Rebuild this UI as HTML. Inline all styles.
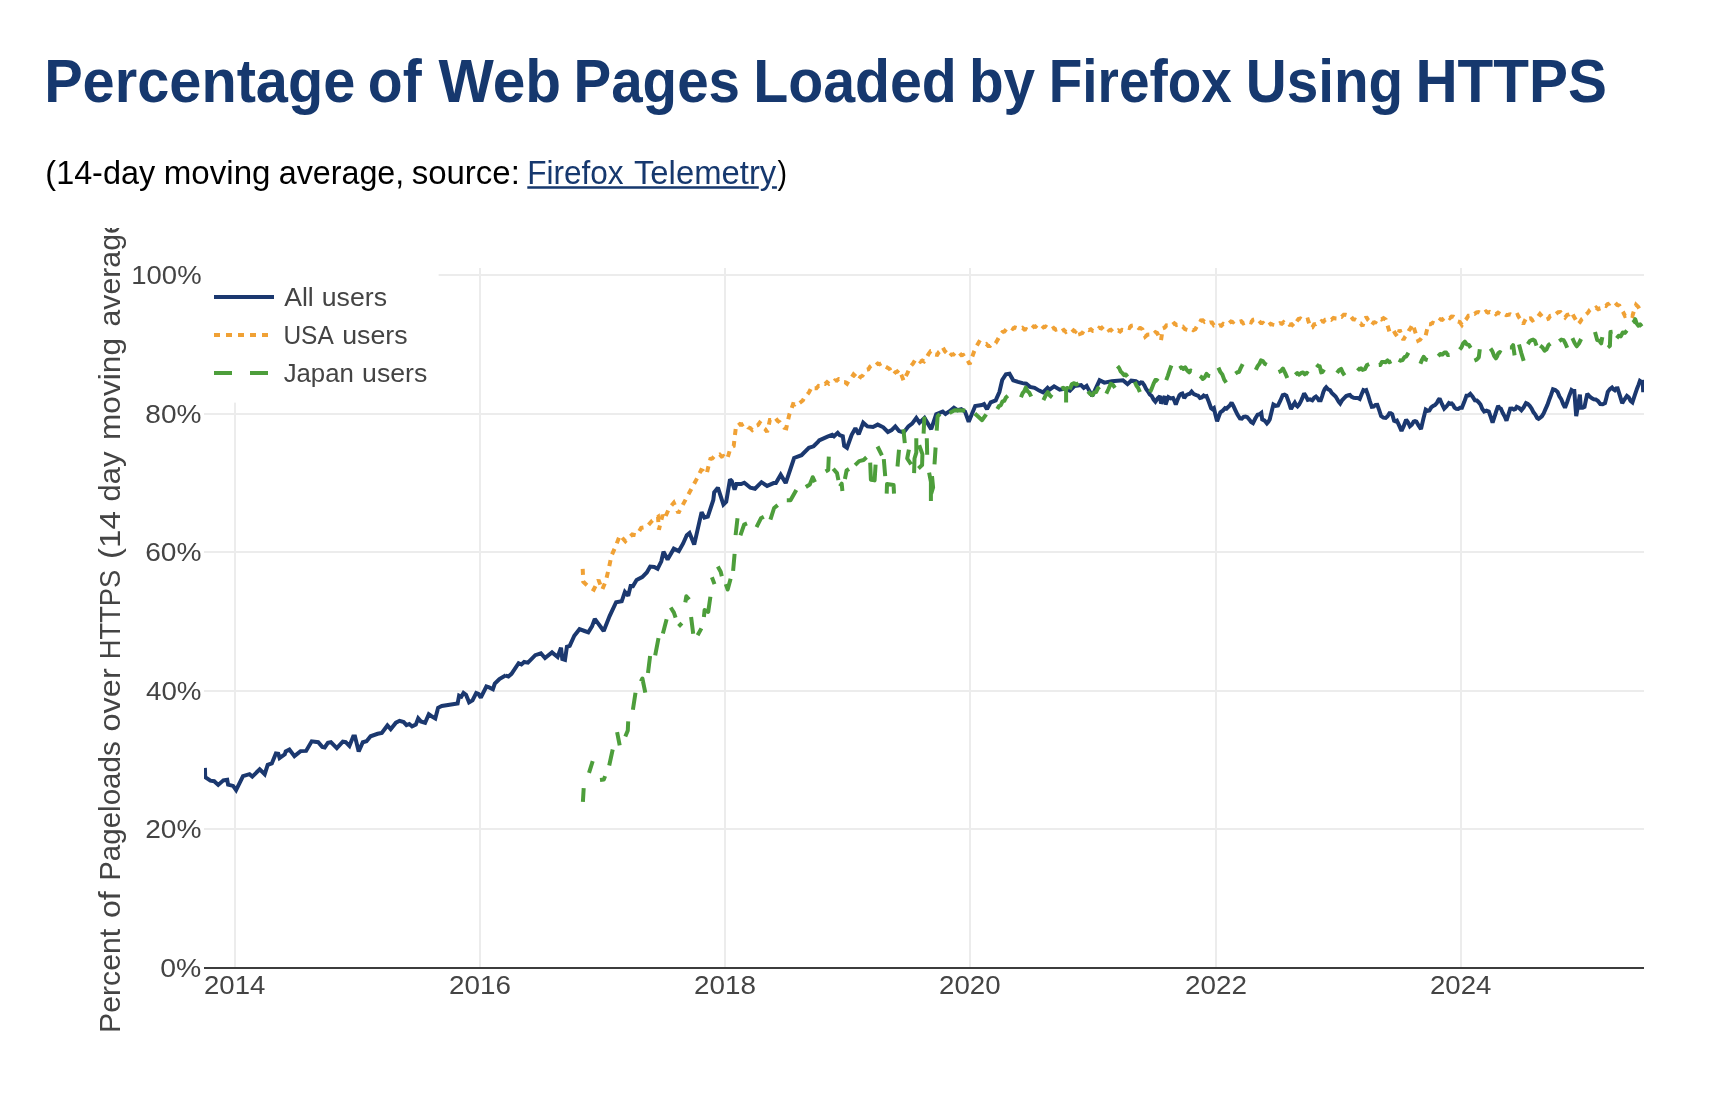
<!DOCTYPE html>
<html lang="en"><head><meta charset="utf-8"><title>Percentage of Web Pages Loaded by Firefox Using HTTPS</title>
<style>
html,body{margin:0;padding:0;background:#fff;}
body{width:1722px;height:1094px;position:relative;overflow:hidden;font-family:"Liberation Sans",sans-serif;}
</style></head><body>
<svg width="1722" height="228" viewBox="0 0 1722 228" style="position:absolute;left:0;top:0;will-change:transform">
<g font-family="'Liberation Sans', sans-serif" font-weight="bold" font-size="61.3" fill="#16386e">
<text x="44.13" y="101.7" textLength="311.21" lengthAdjust="spacingAndGlyphs">Percentage</text>
<text x="367.83" y="101.7" textLength="53.84" lengthAdjust="spacingAndGlyphs">of</text>
<text x="438.49" y="101.7" textLength="122.65" lengthAdjust="spacingAndGlyphs">Web</text>
<text x="573.51" y="101.7" textLength="166.49" lengthAdjust="spacingAndGlyphs">Pages</text>
<text x="753.16" y="101.7" textLength="203.67" lengthAdjust="spacingAndGlyphs">Loaded</text>
<text x="968.91" y="101.7" textLength="66.21" lengthAdjust="spacingAndGlyphs">by</text>
<text x="1048.82" y="101.7" textLength="182.95" lengthAdjust="spacingAndGlyphs">Firefox</text>
<text x="1245.79" y="101.7" textLength="157.47" lengthAdjust="spacingAndGlyphs">Using</text>
<text x="1415.38" y="101.7" textLength="191.6" lengthAdjust="spacingAndGlyphs">HTTPS</text>
</g>
<g font-family="'Liberation Sans', sans-serif" font-size="32.7" fill="#000">
<text x="45.37" y="183.7" textLength="109.71" lengthAdjust="spacingAndGlyphs">(14-day</text>
<text x="163.78" y="183.7" textLength="106.72" lengthAdjust="spacingAndGlyphs">moving</text>
<text x="278.75" y="183.7" textLength="125.45" lengthAdjust="spacingAndGlyphs">average,</text>
<text x="411.66" y="183.7" textLength="108.23" lengthAdjust="spacingAndGlyphs">source:</text>
<text x="527.2" y="183.7" textLength="96.39" lengthAdjust="spacingAndGlyphs" fill="#16386e">Firefox</text><text x="633.96" y="183.7" textLength="142.28" lengthAdjust="spacingAndGlyphs" fill="#16386e">Telemetry</text>
<text x="777.57" y="183.7" textLength="9.52" lengthAdjust="spacingAndGlyphs">)</text>
</g>
<path d="M527.3,187.4H758.8M772,187.4H776.9" stroke="#16386e" stroke-width="2.5" fill="none"/>
</svg>
<svg width="1722" height="866" viewBox="0 228 1722 866" style="position:absolute;left:0;top:228px;overflow:hidden;will-change:transform">
<g stroke="#ececec" stroke-width="2" fill="none" shape-rendering="crispEdges">
<path d="M235,268V968"/>
<path d="M480,268V968"/>
<path d="M725,268V968"/>
<path d="M970,268V968"/>
<path d="M1216,268V968"/>
<path d="M1461,268V968"/>
<path d="M204,275H1644"/>
<path d="M204,414H1644"/>
<path d="M204,552H1644"/>
<path d="M204,691H1644"/>
<path d="M204,829H1644"/>
</g>
<path d="M204,968H1644" stroke="#3c3c3c" stroke-width="2" fill="none" shape-rendering="crispEdges"/>
<clipPath id="c"><rect x="204" y="268" width="1440" height="700"/></clipPath>
<g clip-path="url(#c)" fill="none" stroke-width="4" stroke-linejoin="miter" stroke-miterlimit="2">
<path d="M204.9,767.9 L205.2,777.1 L210.4,780.7 L214.2,781.2 L218.2,784.9 L223.4,780.3 L227.2,779.7 L228.1,784.6 L233.1,785.9 L236.1,790.2 L243,776.2 L249.5,774.2 L252.3,776.6 L259.7,769.3 L264.7,774.2 L267.7,764.9 L271.8,763.4 L275.9,753.4 L278.3,753.7 L279.6,758 L284.8,754.3 L285.7,751.5 L289.4,749.6 L294.4,756.1 L300.6,751.1 L306.1,750.9 L311.7,741.3 L318.2,742.2 L322.3,746.9 L324.7,747.4 L327.9,742.8 L330.9,742.2 L336.8,748.2 L342.8,741.6 L345.7,742.2 L349.4,745.9 L353.2,736.6 L355,736.6 L358.7,751.5 L362.8,742.2 L366.5,741.3 L370.6,736.3 L377.7,733.8 L381.8,732.9 L387.4,725.5 L390.7,729.2 L395.9,722.7 L399.6,720.8 L403.7,722.1 L406.5,725.1 L409.3,724 L412.1,726.4 L415.8,724.6 L418.2,718.4 L420.8,721.4 L425.1,722.7 L428.8,714.3 L431.6,716.2 L435.3,718.4 L438.1,707.8 L441.8,706 L457.6,703.6 L459.1,695.7 L461.3,696.7 L463.5,693 L466,694.8 L469.1,702.3 L472.5,700.4 L476.2,693 L478.4,693.9 L480.8,697.6 L486.4,686.5 L489.2,687.4 L492.9,689.2 L494.8,683.7 L499.4,679 L505.9,675.3 L505.6,675.6 L508.4,676.5 L511.5,673.8 L518.6,663.2 L521.4,664.5 L524.2,662 L527.9,662.6 L535.3,655.2 L540.9,653.3 L545,658 L552,652.4 L557.6,657 L561,647.7 L562.3,658.9 L565,659.8 L566.9,646.8 L569.7,645.9 L574.3,635.7 L579.5,629.2 L584.6,631 L588.3,632.3 L592,626.4 L594.8,618.9 L603.7,631 L609.6,616.1 L616.1,602.2 L621.7,601.3 L624.9,592 L628.2,595.7 L631,584.6 L632.3,587.3 L636.6,579.9 L642.2,577.1 L646.8,572.5 L650.2,566.5 L654.2,566.9 L657.6,568.8 L661.3,561.3 L663.5,551.7 L667.6,559.5 L673.8,548.7 L678.8,551.1 L683,543.7 L686.8,535.3 L689.5,533.1 L694.2,544.6 L701.6,512.1 L704.4,517.7 L707.8,516.7 L713.3,500 L714.2,492.4 L717.9,487.7 L723.4,504.5 L726.2,501.7 L730,479.4 L731.8,481.2 L734.6,489.6 L736.5,484 L741.1,484 L744.3,482.7 L750.4,487.7 L755,488.7 L761.5,482.2 L767.1,485.9 L773.6,483.1 L775.9,483.1 L780.7,474.7 L785.7,483.1 L794.1,458 L801.5,455.2 L808.9,447.8 L813.6,446.3 L818.2,441.8 L819.2,440.3 L827.5,436.6 L832.2,434.8 L834,436.3 L837.7,432.9 L839.6,435.1 L842.8,436.3 L844.2,445.9 L847,447.8 L851.7,434.8 L855.4,428.3 L858.7,434.4 L863.2,422.7 L867.5,426.4 L873,427 L877.7,424.6 L883.3,427.3 L887.9,432 L891.6,430.1 L895.3,426.4 L899.1,431.1 L903.7,432.5 L908.4,426.4 L912.1,423.6 L916.3,418 L919.5,422.7 L924.5,418 L927.9,423.6 L931.2,429.2 L936.2,414.3 L942.7,411.5 L945.5,414 L949.2,411.5 L953.9,407.8 L957.6,410.2 L961.3,409.1 L965,411.5 L968.7,421.8 L975.2,406 L981.8,405 L984,404.1 L987,409.1 L990.7,402.3 L995.7,400.4 L999.4,392 L1002.2,380 L1005.9,374.4 L1009.5,373.8 L1013.2,380.3 L1017.9,381.8 L1022.5,383.1 L1026.2,383.7 L1030,386.9 L1034.6,387.8 L1039.2,390.6 L1043,392.4 L1047.6,387.8 L1049.5,389.6 L1054.1,386.3 L1059.7,389.6 L1064.3,388.7 L1069.9,390.6 L1074.6,385.9 L1081.1,385 L1083.8,387.8 L1086.6,385.9 L1092.2,396.1 L1099.6,380.3 L1104.3,382.6 L1111.7,381.3 L1122.9,380.3 L1127.5,384.1 L1131.2,380.7 L1135.9,381.3 L1139.6,383.7 L1141,382.4 L1142.4,382.6 L1144.3,385.2 L1146.1,389 L1148,391.5 L1149.8,394.4 L1151.7,396.1 L1153.6,399.5 L1155.4,401.7 L1157.7,398.3 L1160,396.1 L1161,403.6 L1162.8,400.2 L1164.7,396.1 L1165.6,404.5 L1167,400.4 L1168.4,397.1 L1170.7,398.4 L1173,398 L1174.4,400.9 L1175.8,404.5 L1177.7,399.4 L1179.5,395.2 L1180.9,393.9 L1182.3,393.4 L1184.2,398 L1186.1,395.3 L1187.9,394.3 L1189.8,393.7 L1191.6,391.5 L1193.9,394.2 L1196.3,395.2 L1198.2,395.7 L1200,398 L1201.8,397.5 L1203.7,395.6 L1205.1,396.4 L1206.5,396.1 L1208.8,401.8 L1211.1,408.2 L1212.5,409.2 L1213.9,408.2 L1215.5,415 L1217.1,421.2 L1218.8,416.5 L1220.4,412.3 L1222.8,410.7 L1225.1,408.2 L1226.5,408.7 L1227.9,407.3 L1229.8,405.5 L1231.6,402.6 L1233.4,406 L1235.3,410.1 L1237.6,414.8 L1239.9,418.4 L1241.8,418.6 L1243.6,416.8 L1245.5,416.6 L1247.3,417.2 L1249.2,419.4 L1251.1,421.9 L1253,423.1 L1255.3,418.5 L1257.6,414.7 L1259.4,414.3 L1261.3,412.9 L1262.2,419.4 L1264.6,420.6 L1266.9,423.5 L1268.3,421.9 L1269.7,419.4 L1271.6,411.7 L1273.4,404.5 L1275.7,405.8 L1278,405.4 L1280.3,400.7 L1282.7,395.2 L1284.6,394.7 L1286.4,395.6 L1288.7,402 L1291,409.2 L1292.9,405.5 L1294.8,402.6 L1296.2,405.2 L1297.5,406.4 L1299.1,404.5 L1300.7,401.7 L1302.4,397.9 L1304.1,393.4 L1305.9,396.2 L1307.8,399.9 L1310,399.4 L1312.3,400.3 L1314.2,397.8 L1316,396.6 L1317.4,397.9 L1318.8,400.3 L1320.7,400.3 L1322.1,396.4 L1323.4,391.9 L1324.8,388.9 L1326.2,387.3 L1328.1,389.4 L1330,390.1 L1331.8,392.9 L1333.7,394.7 L1335.6,396.5 L1337.4,399.4 L1338.8,401.9 L1340.2,403.5 L1342.1,400.3 L1343.9,398.4 L1346.2,396.1 L1348.5,395.3 L1349.9,395 L1351.3,396.6 L1353.7,397.7 L1356,397.9 L1357.8,398 L1359.7,399 L1361.6,394.2 L1363.4,390.1 L1364.8,390.6 L1366.2,390.1 L1368.1,395.3 L1369.9,401.4 L1371.8,406.8 L1373.6,406.6 L1375.5,405 L1377.3,404.9 L1379.2,410.2 L1381.1,416.1 L1383.4,417.7 L1385.7,418 L1387.6,416.2 L1389.4,413.3 L1390.8,413.3 L1392.2,414.2 L1394.1,420.7 L1395.5,421.3 L1396.9,420.7 L1399.2,425.6 L1401.5,431 L1403.8,425.9 L1406.1,419.8 L1408,422.4 L1409.9,426.3 L1411.8,424.7 L1413.6,421.7 L1415,421.2 L1416.4,421.7 L1418.7,425.7 L1421,429.1 L1423.3,419.1 L1425.7,409.6 L1427.6,410.8 L1429.4,410.5 L1431.2,407.4 L1433.1,405.9 L1434.9,405 L1436.8,403.1 L1438.2,400.3 L1439.6,398.4 L1441.9,404 L1444.2,408.7 L1446.6,406.3 L1448.9,403.1 L1450.3,403.8 L1451.7,403.5 L1453.1,404.9 L1454.5,407.7 L1456.3,408.8 L1458.2,409 L1460.1,407.8 L1461.9,407.7 L1464.2,402.1 L1466.5,395.7 L1468.4,395.5 L1470.3,393.8 L1472.6,396.7 L1474.9,400.3 L1476.8,400.5 L1478.6,402.2 L1480.5,404.6 L1482.3,408.9 L1484.2,411.5 L1486.5,410.6 L1488.8,411.5 L1490.7,416.8 L1492.6,422.6 L1494.4,417.2 L1496.3,411.2 L1498.1,405.9 L1499.5,408 L1500.9,408.7 L1502.8,413 L1504.6,416.3 L1506.5,420.7 L1508.3,415 L1510.2,408.7 L1512.1,408.6 L1513.9,409.6 L1515.3,409.1 L1516.7,406.8 L1519.1,408 L1521.4,410.2 L1523.7,407.3 L1526,403.1 L1527.8,403.9 L1529.7,405.9 L1531.6,408.5 L1533.5,412.3 L1535.3,414.5 L1537.2,418 L1538.6,418.9 L1539.9,418 L1541.8,416.4 L1543.7,413.3 L1545.6,408.9 L1547.4,404.9 L1549.3,399.5 L1551.1,394.7 L1553,389.2 L1555.3,390 L1557.6,391.9 L1559.4,396.3 L1561.3,399.3 L1563.2,404.1 L1565,407.7 L1567.2,402 L1569.3,395.7 L1571.5,390.1 L1572.9,391 L1574.3,391 L1576.2,416.1 L1578.1,405.3 L1579.9,394.7 L1580.8,407.7 L1582.7,407.7 L1584.5,406.8 L1585.9,400.1 L1587.3,393.8 L1589.7,396.5 L1592,398.4 L1593.8,399.3 L1595.7,399.4 L1598,401 L1600.3,404 L1602.7,404.2 L1605,403.1 L1606.4,397.7 L1607.8,391.9 L1609.9,389.1 L1612,387.5 L1613.4,389.3 L1614.8,390.3 L1616.2,388.5 L1617.6,388.4 L1619.9,395.6 L1622.2,403.3 L1624.6,399.3 L1626.9,395.9 L1628.7,397.3 L1630.6,401 L1632.4,402.4 L1634.8,395.2 L1637.1,388.4 L1638.5,384.9 L1639.9,381 L1641.3,382 L1642.7,381.9 L1643.2,392.2" stroke="#1b386f"/>
<path d="M582.7,568.8 L583.3,581.8 L588.3,586.4 L593.8,589.6 L598.5,579.9 L602.2,589.6 L605.9,580.8 L608.7,568.8 L611.5,555.7 L615.6,546.5 L619.9,535.3 L625.4,541.3 L632.3,534.4 L636.6,535.3 L641.2,527.9 L646.8,526.9 L652.4,520.4 L658,516.7 L658.9,529.7 L662.6,514.9 L664.5,518.6 L669.1,508.4 L673.8,502.8 L678.4,513 L696.5,479.4 L701.1,470.1 L703,470.9 L704.8,473.2 L706.7,473.8 L708.5,466.1 L710.4,458.9 L712.3,458.5 L714.1,456.5 L716,456.5 L717.9,455.2 L719.7,454.5 L721.6,456.6 L723.4,456.1 L725.3,458.2 L727.2,458.9 L728.6,454.5 L730,449.6 L731.9,446.9 L733.7,445.9 L735,434.8 L736.1,425.5 L738,425.7 L740,424 L742,424.7 L743.9,423.6 L746,424.5 L748.1,427.4 L750.2,428.1 L752.3,430.1 L754.1,428.7 L756,425.8 L757.9,425.1 L759.7,422.7 L761.6,424.2 L763.4,427.9 L765.2,429.1 L767.1,432 L768.5,426.2 L769.9,419.9 L771.8,419.9 L773.6,417.7 L775.5,418 L777.7,420.9 L779.8,422.3 L782,425.5 L784.1,427.7 L786.3,428.3 L787.8,421.1 L789.4,414.3 L791.2,409.5 L793.1,404.1 L795,404.4 L796.9,402.5 L798.7,403.7 L800.6,402.3 L802.8,400.4 L804.9,396.5 L807.1,394.8 L808.9,392.5 L810.8,388.9 L812.6,386.5 L814.5,388.3 L816.4,388.3 L818.6,385.8 L820.7,386 L822.9,383.7 L825,384 L827,382.2 L829.1,383.8 L831.2,382.7 L833.1,382.4 L835,380.3 L836.8,380.6 L838.7,379 L840.8,379.3 L842.9,382 L844.9,382.1 L847,383.7 L849.2,379.9 L851.3,377.8 L853.5,374.4 L855.9,376.7 L858.2,380 L860.4,376.8 L862.5,375.8 L864.7,372.5 L866.6,369.8 L868.4,369.3 L870.2,366.5 L872.1,365.1 L874,364.1 L875.8,365.2 L877.7,363.5 L879.5,364.2 L881.4,363.2 L883.6,364.2 L885.7,366.7 L887.9,367.9 L889.8,369.2 L891.6,372.6 L893.5,374.4 L895.4,372.2 L897.2,371.7 L899.1,369.7 L901.4,374.9 L903.7,380.9 L905.6,376.5 L907.4,373.1 L909.3,368.8 L911.2,365.6 L913,363.5 L914.9,360.4 L916.7,361.6 L918.6,360 L920.4,361.8 L922.3,360.6 L924.1,361.4 L926.3,358.3 L928.5,354.1 L930.7,351.1 L932.9,351.4 L935,354.5 L937.2,354.9 L939,351.9 L940.9,350.3 L942.7,347.4 L944.9,351.2 L947,353.3 L949.2,356.7 L951.4,354.5 L953.5,354.5 L955.7,352.1 L957.6,353.5 L959.5,353 L961.3,355.2 L963.2,354.9 L965.4,358.4 L967.5,360.4 L969.7,364.2 L972,357.3 L974.3,351.1 L976.6,346 L979,341.9 L980.8,343 L982.7,342.8 L984.5,344.4 L986.3,343.9 L988.2,346 L990,346 L991.9,344.1 L993.7,344.7 L995.6,343.2 L997.9,339.3 L1000.2,334.8 L1002.4,332.1 L1004.5,331.5 L1006.7,328.7 L1008.7,329 L1010.7,327.6 L1012.8,328.8 L1014.8,327.4 L1016.8,328 L1018.8,327.4 L1020.7,328.5 L1022.5,327.8 L1024.4,329.5 L1026.2,329.2 L1028.1,330.2 L1030,328.7 L1031.8,328.7 L1033.7,326.5 L1035.5,326.8 L1037.4,325 L1039.4,326.3 L1041.5,325.4 L1043.5,327.4 L1045.6,326.5 L1047.6,327.9 L1049.6,327.3 L1051.7,329.1 L1053.7,328 L1055.8,329.7 L1057.8,329.2 L1059.8,328.7 L1061.8,331.1 L1063.8,329.9 L1065.9,332 L1067.9,330.7 L1069.9,332 L1071.8,332.2 L1073.6,330.4 L1075.5,331.6 L1077.3,329.5 L1079.2,329.8 L1080.1,333.9 L1082.3,333.1 L1084.4,329.8 L1086.6,329.2 L1088.7,330.1 L1090.8,329.3 L1092.9,331.1 L1095,331.1 L1097.1,330.5 L1099.2,327.9 L1101.3,328.5 L1103.4,326.5 L1105.2,328 L1107.1,327.8 L1108.9,330.3 L1110.8,329.7 L1112.6,331.7 L1114.5,331 L1116.3,331.6 L1118.2,330.4 L1120.1,331.5 L1121.9,329.9 L1123.8,330.2 L1125.7,329.8 L1127.5,327.6 L1129.4,328 L1131.2,325.8 L1133.1,325.5 L1135,326.9 L1136.8,326.5 L1138.7,328.2 L1140.5,328 L1142.4,329.2 L1143.8,333.3 L1145.2,336.7 L1147.4,334.7 L1149.5,334.6 L1151.7,333 L1153.5,333.9 L1155.4,332.2 L1157.2,333 L1159.1,337 L1161,340.4 L1162.8,328.3 L1164.7,327.6 L1166.5,325.4 L1168.4,325.5 L1170.3,323.7 L1172.4,324.8 L1174.4,323.3 L1176.5,325 L1178.6,324.6 L1180.7,326.8 L1182.8,326.6 L1184.9,329 L1187,329.8 L1189.1,330.4 L1191.2,328.8 L1193.2,330.2 L1195.3,329.2 L1197.2,325.8 L1199,324 L1200.9,320.5 L1202.8,320.4 L1204.6,321.8 L1206.5,320.9 L1208.3,322.9 L1210.2,322.4 L1212,322.5 L1213.9,325.4 L1215.8,324.7 L1217.6,326.5 L1219.5,325.3 L1221.3,325.7 L1223.2,323.9 L1225,324.6 L1226.9,323.1 L1229,323.3 L1231,321.5 L1233.1,322.2 L1235.1,320.6 L1237.2,320.9 L1239.2,321.9 L1241.3,321.3 L1243.3,323.4 L1245.4,322.6 L1247.4,323.7 L1249.2,321.9 L1251.1,322.4 L1253,319.8 L1254.8,319.4 L1256.8,321.3 L1258.9,320.7 L1260.9,323 L1263,322.9 L1265,324.6 L1266.9,323.7 L1268.8,325.2 L1270.6,323.8 L1272.5,324.6 L1274.3,324.9 L1276.2,323.2 L1278.1,324.1 L1279.9,323.1 L1281.8,323.8 L1283.6,322.2 L1285.5,323.8 L1287.3,322.7 L1289.5,324.8 L1291.6,324.3 L1293.8,326.5 L1296.2,322.2 L1298.5,319 L1300.4,318.4 L1302.2,319.7 L1304.1,318.4 L1305.9,319.9 L1307.8,319.4 L1309.1,323.4 L1310.4,327.8 L1312.3,327.4 L1314.1,324.4 L1316,324.1 L1317.9,322.7 L1319.7,323.1 L1321.6,321.1 L1323.5,321.7 L1325.3,319.7 L1327.2,319.5 L1329.3,318.6 L1331.3,319.7 L1333.4,317.9 L1335.5,318.5 L1337.5,318.6 L1339.6,316.3 L1341.6,316.8 L1343.7,314.7 L1345.7,314.8 L1347.6,315.3 L1349.4,317.5 L1351.3,316.9 L1353.1,319.3 L1355,319.5 L1356.9,320.5 L1358.8,323.3 L1360.6,323.4 L1362.5,326 L1364.3,321.1 L1366.2,316.7 L1368.1,320 L1369.9,321.7 L1371.8,325 L1373.7,322.5 L1375.5,322.4 L1377.3,319.3 L1379.2,318.5 L1381.4,319.5 L1383.5,318.2 L1385.7,319.5 L1387.6,325.7 L1389.4,331.5 L1391.2,329.8 L1393.1,329.7 L1395.4,333.8 L1397.8,337.1 L1399.6,329.7 L1401.5,335.1 L1403.4,339.9 L1405.2,336.5 L1407.1,334.2 L1408.9,330.6 L1410.8,327.9 L1412.6,324.1 L1414,328.1 L1415.4,332.5 L1416.8,337.1 L1418.2,340.8 L1420.1,339.8 L1422,337.1 L1423.8,337.4 L1425.7,335.3 L1427.1,329.4 L1428.4,324.1 L1430.5,324.3 L1432.6,322.7 L1434.7,323.6 L1436.8,322.3 L1438.7,321.7 L1440.5,319.3 L1442.3,319.7 L1444.2,318 L1446.1,318.5 L1447.9,316.8 L1449.8,318.1 L1451.6,316.5 L1453.5,316.7 L1455.6,318.2 L1457.7,321.5 L1459.8,322.1 L1461.9,325 L1464.1,321.5 L1466.2,319.2 L1468.4,315.7 L1470.4,315.7 L1472.5,313.5 L1474.5,313.9 L1476.6,312.3 L1478.6,312 L1480.5,312.9 L1482.3,311.5 L1484.2,312.6 L1486.1,311.4 L1487.9,312.6 L1489.8,312 L1491.8,313 L1493.9,312.2 L1495.9,314.1 L1498,312.6 L1500,313.9 L1502.1,315.1 L1504.2,313.8 L1506.3,315.1 L1508.4,314.8 L1510.2,314.3 L1512.1,315.3 L1513.9,314.3 L1515.8,315.6 L1517.6,314.8 L1519.5,318.2 L1521.3,320.7 L1523.2,324.1 L1525.1,320.1 L1526.9,316.7 L1528.8,318.6 L1530.6,318.3 L1532.5,320.4 L1534.3,319.3 L1536.2,316.3 L1538.1,316.3 L1539.9,313.9 L1542.1,316.6 L1544.2,316.8 L1546.4,319.5 L1548.3,318.8 L1550.2,315.9 L1552,315.7 L1553.9,313.9 L1556.1,313.9 L1558.2,312.1 L1560.4,312 L1562.7,315.3 L1565,317.6 L1567.2,314.8 L1569.3,314.4 L1571.5,312 L1573.7,316.3 L1575.8,319.8 L1578,324.1 L1579.9,322.2 L1581.8,319.1 L1583.6,317.9 L1585.5,314.8 L1587.7,313 L1589.8,309.9 L1592,308.3 L1594.1,309 L1596.2,307.6 L1598.2,309.2 L1600.3,308.3 L1602.2,308 L1604,305.5 L1605.9,306 L1607.7,304.1 L1609.6,303.7 L1611.2,302.3 L1612.9,302 L1615.1,302.6 L1617.2,305 L1619.4,305.7 L1621.3,309.5 L1623.1,312.1 L1625,316 L1626.8,315.4 L1628.7,316.6 L1630.6,315.1 L1632.4,316 L1634.2,310 L1636.1,304.8 L1638.3,306.9 L1640.5,310.9 L1642.7,313.2" stroke="#f0a135" stroke-dasharray="6 6"/>
<path d="M582.9,801.8 L583.7,788.2 M589,772.9 L592.7,761.2 M600,779.9 L603.9,779.4 L605.1,776.1 M609.2,765.5 L612.7,749.5 M617.1,732.2 L619.7,745.4 M625.3,736.6 L627.8,730.4 L628.2,721.4 M632.9,709.7 L635.5,692.7 M640.9,681.4 L642.4,678.5 L645.3,692.7 M648,673.1 L650.1,655.9 M655.2,655.3 L658.5,638.2 M662.9,633.4 L666.6,619.2 M670.7,607.5 L673.9,612.6 L675.6,617.7 M678.6,626.5 L681.9,623.1 M685.3,602.4 L686.3,596.2 L689.2,599.5 M691.1,617 L693.2,633.8 M697.6,635.3 L701.4,628.4 M703.9,617 L704.6,610 L708.2,611.9 L710.4,596.8 M711.9,577.2 L714.5,584.1 M717.8,566.5 L720.7,571.7 L721.8,576.3 M725.8,584.1 L727.7,589.5 L730.6,578.7 M733.1,570.9 L734.6,553.8 M735.6,535.1 L737.5,518.3 M740.4,535.4 L744.1,524.6 L747,523.4 M756.5,527.1 L760.9,518.3 L763.8,516.8 M770.4,519.7 L774.1,508 L777.7,505.1 M786.8,500.2 L790.5,500.2 L796.3,489.9 M805.8,487 L809.8,484.5 L812.7,477.2 L815,482.2 M828.8,456.7 L828.2,469.9 L825.6,471.4 M833.2,468.7 L837,473.1 L838.4,480.1 M839.9,486.3 L841.7,483.7 L842.4,491 M844.9,479 L846.6,470.5 L849,469 M855.1,465.1 L859.2,461.1 L863.6,460 L866.5,457.3 M870.2,462.6 L870.9,479.7 L874.6,480.4 L875.6,464.6 M877.5,446.5 L880,451.5 L881.9,455.3 M883.8,459.2 L885.2,476.1 M886.7,493.6 L887,484.1 L893.6,485.1 L894,493.6 M897.5,466.5 L899,449.7 M903.4,429.3 L904.8,443.1 M908.9,449.7 L907.2,458.5 L911.1,464.4 M914.1,473.1 L914.5,458.5 L916.3,452.7 L916.3,438.3 M919.2,445.3 L922.4,454.1 L922.1,465.1 L918.4,468.4 M925.8,419 L924.3,418.3 L923.6,433.6 M926.8,438.3 L927.2,454.8 M929.1,472.7 L930.9,481.9 L930.9,500.9 M932,476.1 L933.1,487.5 L931.2,493.6 M934.5,464.4 L935.6,447.5 M936.7,430.7 L937.6,416.4 L939.9,414 M949.6,412.9 L954.6,410.2 L965.2,410.5 M974.8,413.5 L982.1,420.2 L986.2,414.3 M997.3,409 L999,406.1 L1000.8,405.2 L1002.5,401.4 L1004.3,400.9 L1006,397.4 L1007.8,395.8 M1021,397.3 L1022.6,393.3 L1024.2,391.2 L1025.8,387.5 L1027.6,391.3 L1029.4,392.8 L1031.2,396.5 M1043.4,400.2 L1045.6,395.6 L1047.8,392.1 L1050,395.6 L1052.2,397.3 M1061.4,388.6 L1063.2,387.8 L1065.1,389.6 L1066.9,387.9 L1068.7,388.6 M1066.1,388.6 L1066.1,402.4 M1069.7,389.5 L1071.9,384.1 L1074.1,383.2 L1076.3,384.5 L1078.5,383.1 M1088,391.4 L1090.2,394 L1092.4,395.1 L1094.2,392.4 L1096.1,392.1 L1097.9,388.3 L1099.7,387 M1106.3,393.6 L1108.5,389 L1110.7,383.7 L1112.8,384.7 L1115,387.8 M1117.5,366.1 L1119.1,368 L1120.8,371.6 L1122.4,373.1 L1124.1,375.1 L1125.8,374.5 L1127.5,376.8 M1134.8,381.9 L1136.5,385.8 L1138.2,388 L1139.9,392.1 M1150.1,392.1 L1151.8,388.4 L1153.6,383.6 L1155.3,380.1 L1156.8,380 L1158.2,381.2 M1166.2,380.1 L1167.9,375.6 L1169.7,370 L1171.4,365.5 M1179.4,368.4 L1181.3,367.3 L1183.3,368.9 L1185.2,367.3 L1187.2,370.5 L1189.2,372.4 L1190.5,370.5 L1191.8,370.9 M1199.9,376.1 L1201.3,377 L1202.8,379 L1204.7,377.4 L1206.5,373.9 L1208.3,375.7 L1210.1,376.1 M1218.4,367.6 L1220.4,372.1 L1222.3,374.4 L1224.2,379.6 L1226.2,382.6 M1235.4,373.6 L1237.2,372.3 L1239,372.1 L1240.8,367.8 L1242.7,364.1 M1255.8,369.9 L1257.5,366.3 L1259.3,364.1 L1261,360.4 L1262.9,361.1 L1264.9,363.9 L1266.8,364.8 M1278.5,372.1 L1280.7,371.2 L1282.9,368.5 L1285.1,372.9 L1287.3,378 M1295.3,374.8 L1297.3,373 L1299.2,374.6 L1301.2,372.9 L1303,372.4 L1304.8,374.3 L1306.7,372.8 L1308.5,373.9 M1316.5,364.5 L1318.1,366 L1319.7,366.3 L1321.2,372.4 L1322.7,371.8 L1324.1,369.5 M1337,372.9 L1339,370.2 L1341.1,368.9 L1342.8,372.6 L1344.6,375.4 M1357.5,367.8 L1359.2,369.5 L1360.9,368.3 L1362.6,369.9 L1364.8,369.2 L1367,365 L1369.2,364.1 M1378.7,365.1 L1380.3,364.9 L1381.9,362.1 L1383.5,361.9 L1385.5,362.3 L1387.5,360.4 L1389.4,362.2 L1391.4,361.3 M1398.7,359.7 L1400.6,360.7 L1402.5,360.1 L1404.5,357.1 L1406.4,356.3 L1408.4,352.8 M1420.4,363.7 L1422,359.9 L1423.6,356.8 L1425.7,359.5 L1427.7,360.1 M1438.2,356.1 L1440.3,354 L1442.4,354.6 L1444.5,352.4 L1446.2,352.5 L1447.9,355.1 L1449.6,354.9 M1459.7,349.5 L1461.4,347.5 L1463.2,343.4 L1464.9,341.6 L1466.8,344.4 L1468.8,344.9 L1470.7,347.8 M1474.4,360.6 L1476.6,359.7 L1478.8,357.3 L1479.8,349.2 M1490.5,348.5 L1492.3,351.1 L1494.1,355.8 L1495.9,358.3 L1497.1,356.5 L1498.2,353.3 L1499.8,352 L1501.4,352.9 M1509.9,347.5 L1511.5,347.5 L1513.1,345.1 L1514.6,355.4 M1519,344.5 L1521.3,353.1 L1523.7,360.9 M1527.8,344.1 L1529.6,341.2 L1531.4,340.1 L1533.1,339.6 L1534.8,340.7 L1536.5,345.6 M1540.2,345.6 L1542.4,347.3 L1544.6,350.7 L1546.5,349.3 L1548.5,345.1 L1550.4,343.7 M1559.2,341.2 L1561.4,339.6 L1563.6,340.1 L1565.4,343.5 L1567.2,347.8 M1572.4,338.2 L1574.6,343 L1576.7,346.3 L1578.9,343.5 L1581.1,339 M1595,332 L1597.2,340.1 L1599.2,340.6 L1601.2,343.4 L1602.3,337.2 M1607.9,347.5 L1609.9,346 L1610.4,332 L1612.6,331.7 M1616.7,338.2 L1618.7,335.7 L1620.8,336.4 L1622.8,332.5 L1624.9,332.9 L1626.9,330.5 M1632.8,322.6 L1634,321.6 L1635.2,319.2 L1636.7,323.6 L1638.4,325.7 L1640.1,324.3 L1641.8,326.5" stroke="#4d9e3b" stroke-linejoin="round"/>
</g>
<rect x="203" y="267" width="235.6" height="135.6" fill="#fff"/>
<g fill="none" stroke-width="4">
<path d="M214,297H274" stroke="#1b386f"/>
<path d="M214,335H274" stroke="#f0a135" stroke-dasharray="6 6"/>
<path d="M214,373H274" stroke="#4d9e3b" stroke-dasharray="18 18"/>
</g>
<g font-family="'Liberation Sans', sans-serif" font-size="25.7" fill="#444444">
<text x="284.17" y="306" textLength="29.57" lengthAdjust="spacingAndGlyphs">All</text><text x="321.75" y="306" textLength="65.25" lengthAdjust="spacingAndGlyphs">users</text>
<text x="283.38" y="344" textLength="50.35" lengthAdjust="spacingAndGlyphs">USA</text><text x="342.25" y="344" textLength="65.36" lengthAdjust="spacingAndGlyphs">users</text>
<text x="283.66" y="381.7" textLength="70.19" lengthAdjust="spacingAndGlyphs">Japan</text><text x="362.05" y="381.7" textLength="65.25" lengthAdjust="spacingAndGlyphs">users</text>
<text x="204.05" y="993.9" textLength="61.28" lengthAdjust="spacingAndGlyphs">2014</text>
<text x="449.03" y="993.9" textLength="61.87" lengthAdjust="spacingAndGlyphs">2016</text>
<text x="694.03" y="993.9" textLength="61.87" lengthAdjust="spacingAndGlyphs">2018</text>
<text x="939.04" y="993.9" textLength="61.51" lengthAdjust="spacingAndGlyphs">2020</text>
<text x="1185.03" y="993.9" textLength="61.96" lengthAdjust="spacingAndGlyphs">2022</text>
<text x="1430.05" y="993.9" textLength="61.28" lengthAdjust="spacingAndGlyphs">2024</text>
<text x="131.34" y="283.9" textLength="70.22" lengthAdjust="spacingAndGlyphs">100%</text>
<text x="145.37" y="422.9" textLength="56.16" lengthAdjust="spacingAndGlyphs">80%</text>
<text x="145.21" y="560.9" textLength="56.31" lengthAdjust="spacingAndGlyphs">60%</text>
<text x="146.02" y="699.9" textLength="55.49" lengthAdjust="spacingAndGlyphs">40%</text>
<text x="145.21" y="837.9" textLength="56.31" lengthAdjust="spacingAndGlyphs">20%</text>
<text x="160.32" y="976.9" textLength="41.01" lengthAdjust="spacingAndGlyphs">0%</text>
</g>
<g transform="translate(120.1,1030.4) rotate(-90)" font-family="'Liberation Sans', sans-serif" font-size="29.4" fill="#444444">
<text x="-2.52" y="0" textLength="104.11" lengthAdjust="spacingAndGlyphs">Percent</text>
<text x="112.46" y="0" textLength="26.73" lengthAdjust="spacingAndGlyphs">of</text>
<text x="149.54" y="0" textLength="139.51" lengthAdjust="spacingAndGlyphs">Pageloads</text>
<text x="298.94" y="0" textLength="63.18" lengthAdjust="spacingAndGlyphs">over</text>
<text x="371.23" y="0" textLength="89.3" lengthAdjust="spacingAndGlyphs">HTTPS</text>
<text x="471.37" y="0" textLength="47.92" lengthAdjust="spacingAndGlyphs">(14</text>
<text x="529.01" y="0" textLength="49.87" lengthAdjust="spacingAndGlyphs">day</text>
<text x="590.42" y="0" textLength="101.99" lengthAdjust="spacingAndGlyphs">moving</text>
<text x="703.94" y="0" textLength="92.41" lengthAdjust="spacingAndGlyphs">averag</text><text x="796.38" y="0" textLength="28.08" lengthAdjust="spacingAndGlyphs">e)</text>
</g>
</svg>
</body></html>
